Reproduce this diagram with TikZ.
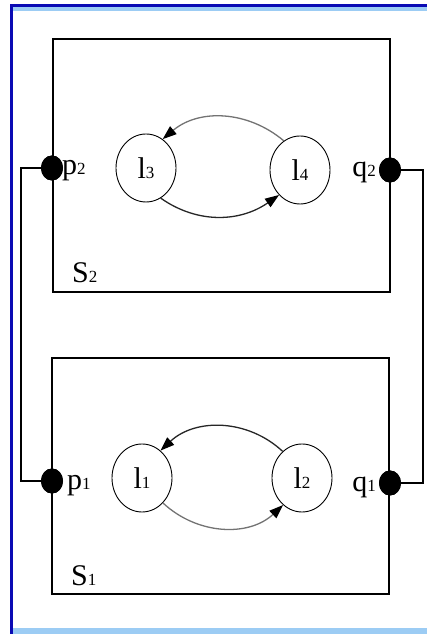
\documentclass[tikz,border=0pt]{standalone}
\usepackage{fontspec}
\setmainfont{Liberation Serif}
\usetikzlibrary{shapes.geometric,arrows.meta}
\definecolor{frameblue}{HTML}{0A0AB4}
\definecolor{lightblue}{HTML}{9CCCF4}
\newcommand{\sbs}[1]{{\fontsize{17}{17}\selectfont #1}}
\tikzset{
  box/.style={line width=1.6pt},
  wire/.style={line width=1.4pt},
  dot/.style={ellipse,fill=black,minimum width=22pt,minimum height=25pt,inner sep=0pt},
  loc/.style={ellipse,draw,line width=0.9pt,minimum width=60pt,minimum height=68pt,inner sep=0pt,font=\fontsize{30}{30}\selectfont},
  lbl/.style={inner sep=0pt,font=\fontsize{30}{30}\selectfont},
  arc/.style={line width=1.3pt,-{Triangle[length=14pt,width=10pt,color=black]}},
}
\begin{document}
\begin{tikzpicture}[x=1pt,y=1pt]
\useasboundingbox (0,0) rectangle (427,634);
% frame
\fill[lightblue] (13,623) rectangle (427,627);
\fill[lightblue] (13,0) rectangle (427,6);
\fill[frameblue] (10,627) rectangle (427,630);
\fill[frameblue] (10,0) rectangle (13,630);
% boxes
\draw[box] (53,342) rectangle (390,595);
\draw[box] (52,40) rectangle (389,276);
% port dots
\node[dot] (p2) at (52,466) {};
\node[dot] (q2) at (390,464) {};
\node[dot] (p1) at (52,153) {};
\node[dot] (q1) at (390,151) {};
% wires
\draw[wire] (p2.center) -- ([xshift=-31pt]p2.center) |- (p1.center);
\draw[wire] (q2.center) -- ([xshift=33pt]q2.center) |- (q1.center);
\node[dot] at (p2) {};
\node[dot] at (q2) {};
\node[dot] at (p1) {};
\node[dot] at (q1) {};
% labels
\node[lbl,anchor=base west] (p2l) at (62,459) {p\sbs{2}};
\node[lbl,anchor=base east] (q2l) at (376,457) {q\sbs{2}};
\node[lbl,anchor=base west] (p1l) at (67,144) {p\sbs{1}};
\node[lbl,anchor=base east] (q1l) at (376,142) {q\sbs{1}};
\node[lbl,anchor=base west] (s2) at (72,351) {S\sbs{2}};
\node[lbl,anchor=base west] (s1) at (71,48) {S\sbs{1}};
% locations
\node[loc] (l3) at (146,466) {l\sbs{3}};
\node[loc] (l4) at (300,464) {l\sbs{4}};
\node[loc] (l1) at (142,156) {l\sbs{1}};
\node[loc] (l2) at (302,156) {l\sbs{2}};
% transitions
\draw[arc,draw=black!55] (l4.119) to[out=140,in=40] (l3.60);
\draw[arc,draw=black!85] (l3.-64) to[out=-35,in=215] (l4.-130);
\draw[arc,draw=black!85] (l2.126) to[out=137,in=43] (l1.56);
\draw[arc,draw=black!55] (l1.-50) to[out=-43,in=223] (l2.-125);
\end{tikzpicture}
\end{document}
